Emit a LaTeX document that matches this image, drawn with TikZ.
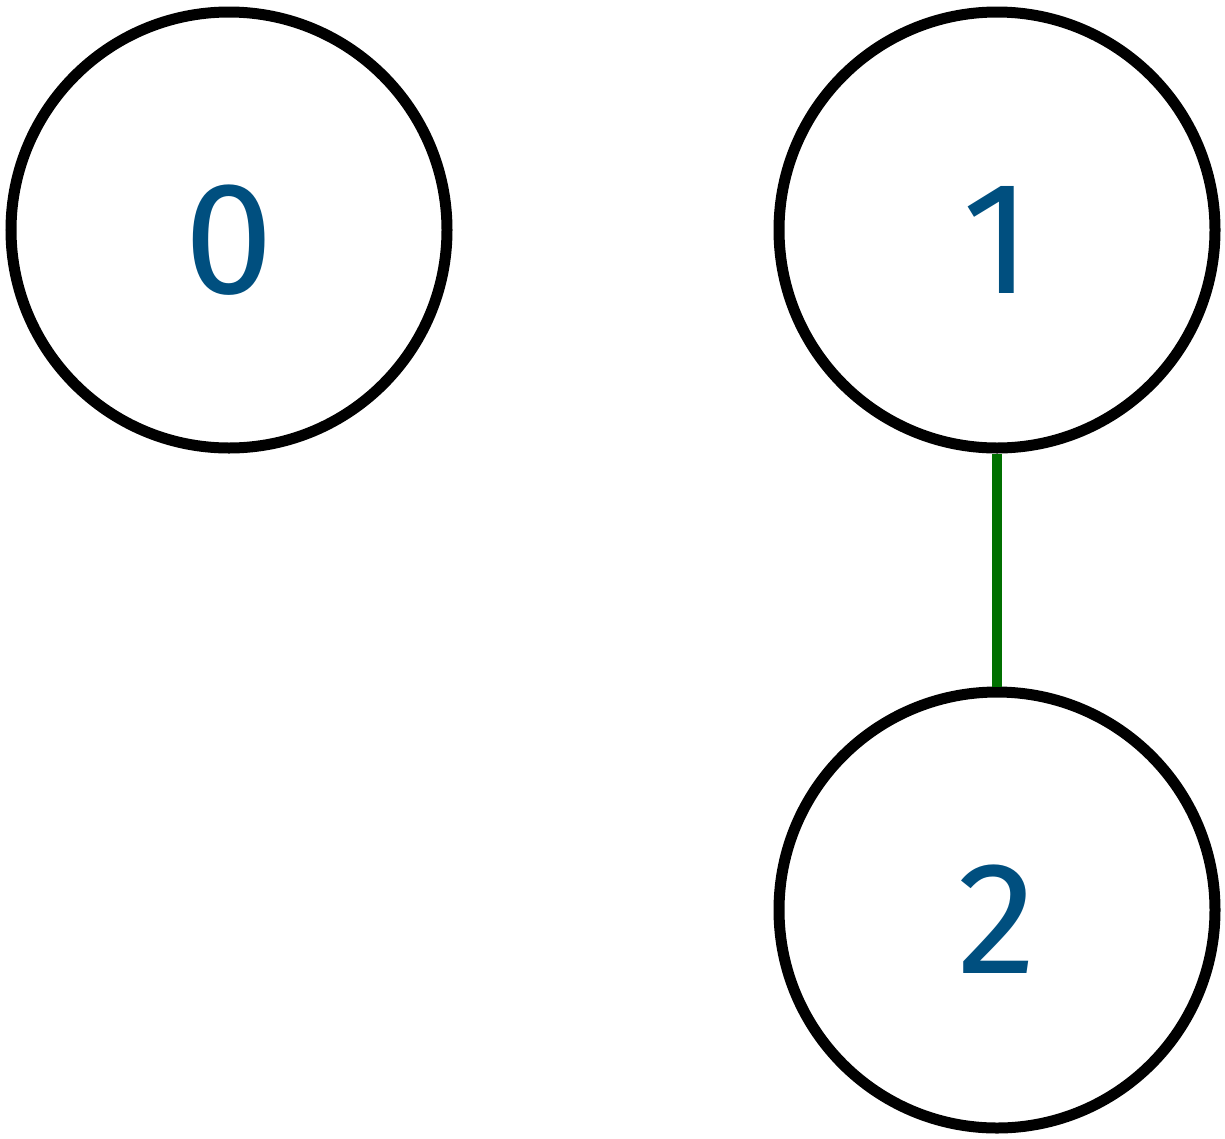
\documentclass[tikz,border=0pt]{standalone}
\usepackage{fontspec}
\setmainfont{Fira Sans}
\definecolor{lblblue}{RGB}{0,79,127}
\definecolor{edgegreen}{RGB}{0,112,0}
\begin{document}
\begin{tikzpicture}[x=1pt,y=-1pt,
  vertex/.style={circle,draw=black,line width=11pt,minimum size=436pt,inner sep=0pt},
  lbl/.style={text=lblblue,font=\fontsize{160}{160}\selectfont,anchor=base,inner sep=0pt},
  edge/.style={draw=edgegreen,line width=10pt}]
\useasboundingbox (0,0) rectangle (1225,1138);
\node[vertex] (n0) at (229,230) {};
\node[vertex] (n1) at (997,230) {};
\node[vertex] (n2) at (997,910) {};
\node[lbl] (t0) at (229,293) {0};
\node[lbl] (t1) at (997,293) {1};
\node[lbl] (t2) at (997,973) {2};
\draw[edge] (n1) -- (n2);
\end{tikzpicture}
\end{document}
